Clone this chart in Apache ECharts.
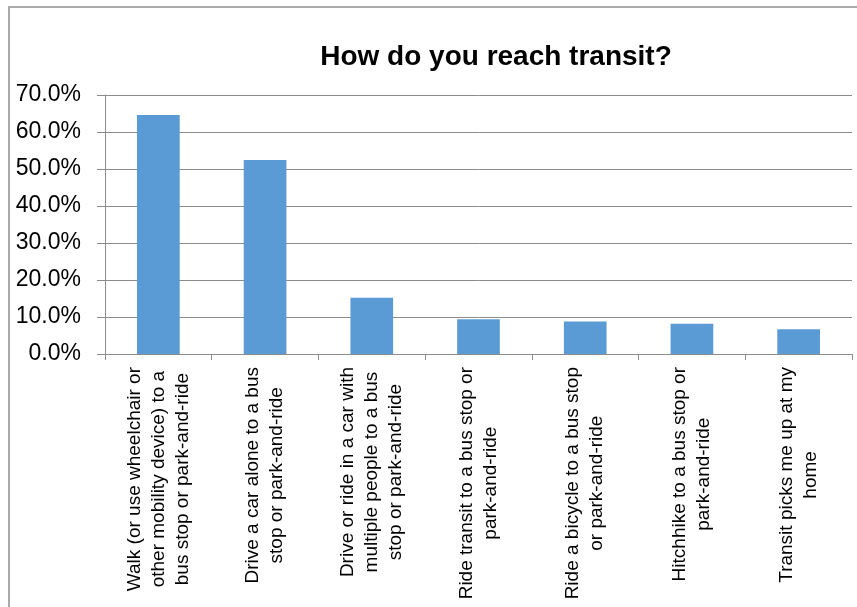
<!DOCTYPE html>
<html>
<head>
<meta charset="utf-8">
<script src="https://cdn.jsdelivr.net/npm/echarts@6/dist/echarts.min.js"></script>
<style>
html,body{margin:0;padding:0;background:#fff;}
#main{width:857px;height:607px;}
</style>
</head>
<body>
<div id="main"></div>
<script>
const title = 'How do you reach transit?';
const categories = [
  'Walk (or use wheelchair or\nother mobility device) to a\nbus stop or park-and-ride',
  'Drive a car alone to a bus\nstop or park-and-ride',
  'Drive or ride in a car with\nmultiple people to a bus\nstop or park-and-ride',
  'Ride transit to a bus stop or\npark-and-ride',
  'Ride a bicycle to a bus stop\nor park-and-ride',
  'Hitchhike to a bus stop or\npark-and-ride',
  'Transit picks me up at my\nhome'
];
const values = [64.6, 52.4, 15.2, 9.4, 8.8, 8.2, 6.7];
const yMin = 0, yMax = 70, yStep = 10;

const chart = echarts.init(document.getElementById('main'), null, {renderer: 'canvas'});
const font = '"Liberation Sans", Arial, sans-serif';
chart.setOption({
  animation: false,
  backgroundColor: '#fff',
  graphic: [{
    type: 'polyline',
    shape: {points: [[9, 607], [9, 7], [857, 7]]},
    style: {stroke: '#aaaaaa', lineWidth: 2, fill: null},
    silent: true
  }],
  title: {
    text: title,
    left: 491, top: 38, textAlign: 'center',
    textStyle: {fontFamily: font, fontWeight: 'bold', fontSize: 28, color: '#000'}
  },
  grid: {left: 105, right: 5, top: 95, bottom: 253, containLabel: false},
  xAxis: {
    type: 'category',
    data: categories,
    axisLine: {lineStyle: {color: '#8c8c8c', width: 1}},
    axisTick: {show: true, length: 6, lineStyle: {color: '#8c8c8c'}},
    axisLabel: {
      rotate: 90, interval: 0, margin: 13,
      fontFamily: font, fontSize: 19, color: '#000', lineHeight: 24,
      formatter: function (v) {
        return v.split('\n').map(function (l) { return '{c|' + l + '}'; }).join('\n');
      },
      rich: {c: {align: 'center', fontFamily: font, fontSize: 19, lineHeight: 24, color: '#000'}}
    }
  },
  yAxis: {
    type: 'value',
    min: yMin, max: yMax, interval: yStep,
    axisLine: {show: true, lineStyle: {color: '#8c8c8c', width: 1}},
    axisTick: {show: true, length: 8, lineStyle: {color: '#8c8c8c'}},
    splitLine: {show: true, lineStyle: {color: '#8c8c8c', width: 1}},
    axisLabel: {
      margin: 24, fontFamily: font, fontSize: 23, color: '#000',
      formatter: function (v) { return v.toFixed(1) + '%'; }
    }
  },
  series: [{
    type: 'bar',
    data: values,
    barWidth: '40%',
    itemStyle: {color: '#5b9bd5'}
  }]
});
</script>
</body>
</html>
